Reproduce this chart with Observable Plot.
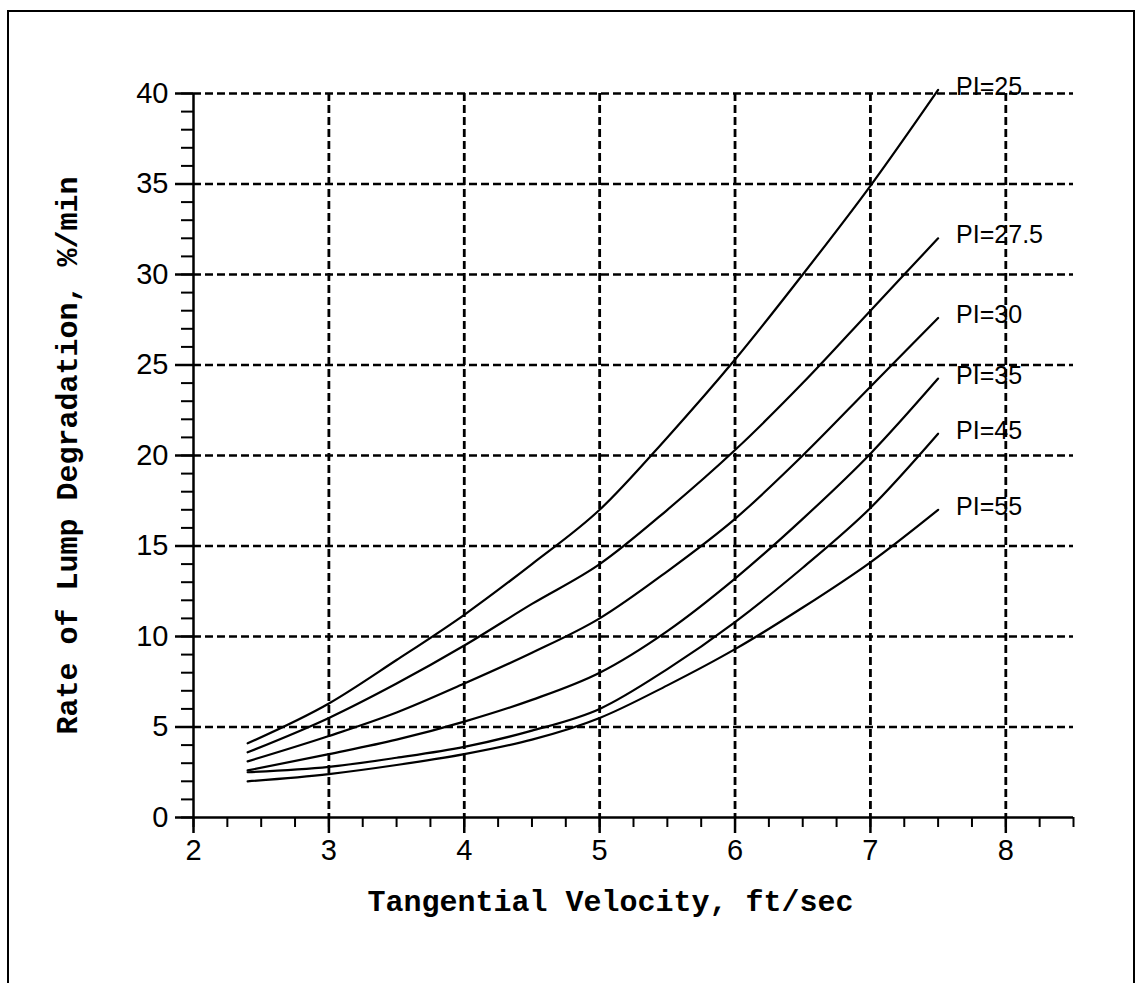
<!DOCTYPE html>
<html>
<head>
<meta charset="utf-8">
<script src="https://cdn.jsdelivr.net/npm/d3@7"></script>
<script src="https://cdn.jsdelivr.net/npm/@observablehq/plot@0.6"></script>
<style>
  html, body { margin: 0; padding: 0; background: #fff; }
  #wrap { position: relative; width: 1135px; height: 983px; overflow: hidden; }
  #frame { position: absolute; left: 7px; top: 10px; width: 1124px; height: 990px;
           border-top: 2.5px solid #000; border-left: 2.5px solid #000; border-right: 2px solid #000; }
</style>
</head>
<body>
<div id="wrap"><div id="frame"></div></div>
<script>
// Data
const velocity = [2.4, 3, 3.5, 4, 4.5, 5, 5.5, 6, 6.5, 7, 7.5];
const pi25  = [4.1, 6.3, 8.7, 11.2, 14.0, 17.0, 21.0, 25.3, 30.0, 34.9, 40.2];
const pi275 = [3.6, 5.5, 7.4, 9.5, 11.8, 14.0, 17.0, 20.3, 24.0, 28.0, 32.0];
const pi30  = [3.1, 4.5, 5.8, 7.4, 9.1, 11.0, 13.6, 16.5, 20.0, 23.8, 27.6];
const pi35  = [2.6, 3.5, 4.3, 5.3, 6.5, 8.0, 10.3, 13.2, 16.5, 20.1, 24.25];
const pi45  = [2.5, 2.8, 3.3, 3.9, 4.8, 6.0, 8.2, 10.8, 13.8, 17.1, 21.2];
const pi55  = [2.0, 2.4, 2.9, 3.5, 4.3, 5.5, 7.3, 9.3, 11.6, 14.1, 17.0];
const seriesNames = ["PI=25", "PI=27.5", "PI=30", "PI=35", "PI=45", "PI=55"];
const seriesValues = [pi25, pi275, pi30, pi35, pi45, pi55];

const xMajorTicks = [2, 3, 4, 5, 6, 7, 8];
const xMinorTicks = [2, 2.25, 2.5, 2.75, 3, 3.25, 3.5, 3.75, 4, 4.25, 4.5, 4.75, 5, 5.25, 5.5, 5.75, 6, 6.25, 6.5, 6.75, 7, 7.25, 7.5, 7.75, 8, 8.25, 8.5];
const yMajorTicks = [0, 5, 10, 15, 20, 25, 30, 35, 40];
const yMinorTicks = d3.range(0, 41, 1);
const xGrid = [3, 4, 5, 6, 7, 8];
const yGrid = [5, 10, 15, 20, 25, 30, 35, 40];

const xTitle = "Tangential Velocity, ft/sec";
const yTitle = "Rate of Lump Degradation, %/min";

const rows = [];
seriesNames.forEach((name, i) => {
  velocity.forEach((v, j) => rows.push({pi: name, v, r: seriesValues[i][j]}));
});

const mono = "'Liberation Mono', 'Courier New', monospace";
const sans = "'Liberation Sans', Arial, sans-serif";
const dash = "8,4";
const intFmt = d3.format("d");

const chart = Plot.plot({
  width: 1135,
  height: 983,
  marginLeft: 193,
  marginRight: 62,
  marginTop: 93,
  marginBottom: 166,
  x: {domain: [2, 8.5], axis: null},
  y: {domain: [0, 40], axis: null},
  style: {background: "transparent", color: "#000", fontFamily: sans},
  marks: [
    Plot.ruleY(yGrid, {stroke: "#000", strokeWidth: 2.4, strokeDasharray: dash}),
    Plot.ruleX(xGrid, {stroke: "#000", strokeWidth: 2.8, strokeDasharray: dash}),
    Plot.ruleY([0], {stroke: "#000", strokeWidth: 2.5}),
    Plot.ruleX([2], {stroke: "#000", strokeWidth: 2.5}),
    Plot.axisY(yMinorTicks, {tickSize: 12, tickFormat: () => "", label: null, strokeWidth: 2}),
    Plot.axisY(yMajorTicks, {tickSize: 18, tickPadding: 7, tickFormat: intFmt, label: null, strokeWidth: 2.5,
      fontSize: 29, fontFamily: sans}),
    Plot.axisX(xMinorTicks, {tickSize: 10, tickFormat: () => "", label: null, strokeWidth: 2}),
    Plot.axisX(xMajorTicks, {tickSize: 16, tickPadding: 6, tickFormat: intFmt, label: null, strokeWidth: 2.5,
      fontSize: 29, fontFamily: sans}),
    Plot.line(rows, {x: "v", y: "r", z: "pi", curve: "monotone-x", stroke: "#000", strokeWidth: 2.2}),
    Plot.text(rows, Plot.selectLast({x: "v", y: "r", z: "pi", text: "pi", textAnchor: "start",
      dx: 18, dy: -3, fontSize: 25, fontFamily: sans, fill: "#000"})),
    Plot.text([xTitle], {frameAnchor: "bottom", textAnchor: "middle", dx: -23, dy: 93, fontFamily: mono,
      fontWeight: "bold", fontSize: 30, fill: "#000"}),
    Plot.text([yTitle], {frameAnchor: "left", textAnchor: "middle", dx: -126, dy: 0, rotate: -90, fontFamily: mono,
      fontWeight: "bold", fontSize: 30, fill: "#000"})
  ]
});
document.getElementById("wrap").appendChild(chart);
</script>
</body>
</html>
